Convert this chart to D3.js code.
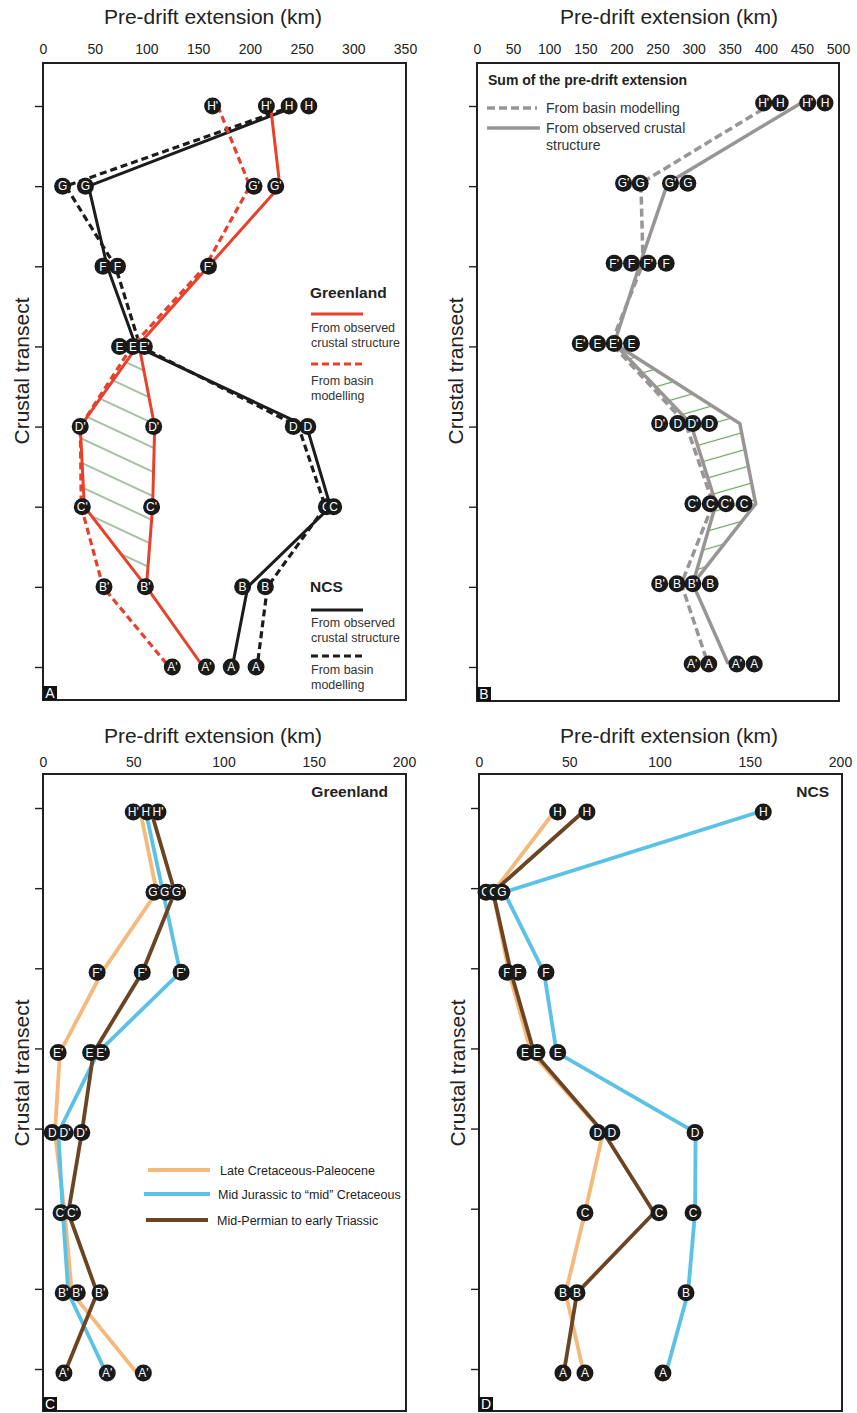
<!DOCTYPE html>
<html><head><meta charset="utf-8">
<script src="https://cdn.jsdelivr.net/npm/d3@7"></script>
<style>body{margin:0;background:#fff}svg{display:block}</style>
</head><body><svg id="c" width="857" height="1413"></svg>
<script>
// ---------- DATA ----------
const transects = ["H","G","F","E","D","C","B","A"];

// Panel A (Greenland red / NCS black), km
const aTicks = [0,50,100,150,200,250,300,350];
const aGreenObs    = [220,229,160,91,36,40,100,155];
const aGreenObsAlt = [null,null,null,93,108,106,100,null];
const aGreenBasin  = [169,200,157,86,36,37,58,122];
const aNcsObs      = [245,44,62,90,255,278,198,183];
const aNcsBasin    = [242,22,70,94,247,273,217,207];
const aMarkers = [
  ["H'","H",164],["H'","H",216],["H","H",238],["H","H",257],
  ["G","G",19],["G","G",41],["G'","G",204],["G'","G",225],
  ["F","F",58],["F","F",72],["F'","F",160],
  ["E","E",74],["E","E",87],["E'","E",98],
  ["D'","D",36],["D'","D",107],["D","D",242],["D","D",256],
  ["C'","C",38],["C'","C",105],["C","C",274],["C","C",281],
  ["B'","B",59],["B'","B",99],["B","B",193],["B","B",215],
  ["A'","A",125],["A'","A",158],["A","A",182],["A","A",206]
];

// Panel B (sums), km
const bTicks = [0,50,100,150,200,250,300,350,400,450,500];
const bBasin  = [410,227,230,186,289,327,283,320];
const bObs    = [449,264,226,190,296,331,299,348];
const bObsAlt = [null,null,null,190,364,386,299,null];
const bMarkers = [
  ["H'","H",397],["H","H",420],["H'","H",458],["H","H",482],
  ["G'","G",203],["G","G",226],["G'","G",268],["G","G",292],
  ["F'","F",190],["F","F",214],["F'","F",237],["F","F",262],
  ["E'","E",143],["E","E",167],["E'","E",190],["E","E",214],
  ["D'","D",253],["D","D",278],["D'","D",299],["D","D",322],
  ["C'","C",299],["C","C",323],["C'","C",345],["C","C",370],
  ["B'","B",253],["B","B",277],["B'","B",299],["B","B",323],
  ["A'","A",298],["A","A",321],["A'","A",360],["A","A",384]
];

// Panels C/D (by period), km
const cdTicks = [0,50,100,150,200];
const periods = ["Late Cretaceous-Paleocene","Mid Jurassic to \u201cmid\u201d Cretaceous","Mid-Permian to early Triassic"];
const cLate = [54,63,32.7,9.4,6.6,12,16,52];
const cJur  = [57,66.5,76,30.5,8.5,11,14,35];
const cPerm = [60,73,55,28,21.5,14,30,12];
const cMarkers = [
  ["H'","H",50],["H'","H",57.6],["H'","H",63.7],
  ["G'","G",61.5],["G'","G",68],["G'","G",74.6],
  ["F'","F",30],["F'","F",55],["F'","F",76.5],
  ["E'","E",8.4],["E'","E",26.4],["E'","E",32.4],
  ["D","D",5.1],["D'","D",12.2],["D'","D",21.5],
  ["C'","C",10],["C'","C",16.4],
  ["B'","B",11.2],["B'","B",19],["B'","B",31.6],
  ["A'","A",11.6],["A'","A",35.6],["A'","A",55.6]
];
const dLate = [41.6,7.8,16.6,28.8,68.7,58.7,48,58];
const dJur  = [155,13.9,36,43,120,119.7,115.8,103.6];
const dPerm = [57.6,7.8,17.7,30.5,69,97,54.3,47];
const dMarkers = [
  ["H","H",43.6],["H","H",59.8],["H","H",157.5],
  ["G","G",3.9],["G","G",8.2],["G","G",12.7],
  ["F","F",15.5],["F","F",21.6],["F","F",37.1],
  ["E","E",25.5],["E","E",32.1],["E","E",43.6],
  ["D","D",65.8],["D","D",73.6],["D","D",119.7],
  ["C","C",58.7],["C","C",99.7],["C","C",118.6],
  ["B","B",46.5],["B","B",54.3],["B","B",114.7],
  ["A","A",46.5],["A","A",58.7],["A","A",101.9]
];

// ---------- DRAWING ----------
const FONT = "Arial, 'Liberation Sans', Helvetica, sans-serif";
const RED = "#e8412b", BLK = "#1c1c1c", GRAY = "#9a9595";
const ORANGE = "#f5b97c", BLUE = "#5bc2e6", BROWN = "#6b4423";
const svg = d3.select("#c").attr("font-family", FONT);
const defs = svg.append("defs");

function hatch(id, angle, gap, color, w){
  const p = defs.append("pattern").attr("id", id).attr("patternUnits","userSpaceOnUse")
    .attr("width", 20).attr("height", gap).attr("patternTransform", `rotate(${angle})`);
  p.append("line").attr("x1",0).attr("x2",20).attr("y1",gap/2).attr("y2",gap/2)
    .attr("stroke", color).attr("stroke-width", w);
}
hatch("hA", 25, 22, "#7f9a78", 1.3);
hatch("hB", -16, 17, "#67a35c", 1.2);

function panel(c){
  const g = svg.append("g");
  const x = d3.scaleLinear().domain([0, c.max]).range([c.x0, c.x1]);
  const y = d3.scalePoint().domain(transects).range([c.yTop, c.yBot]);
  g.append("rect").attr("x", c.fx0).attr("y", c.fy0).attr("width", c.fx1 - c.fx0)
    .attr("height", c.fy1 - c.fy0).attr("fill","none").attr("stroke","#231f20").attr("stroke-width",2);
  g.append("g").attr("transform", `translate(0,${c.tickY})`)
    .call(d3.axisTop(x).tickValues(c.ticks).tickSize(0).tickPadding(0))
    .call(a => a.select(".domain").remove())
    .call(a => a.selectAll("text").attr("font-size", 14).attr("fill", "#222").attr("font-family", FONT));
  g.append("g").attr("transform", `translate(${c.fx0},0)`)
    .call(d3.axisLeft(y).tickSize(8).tickFormat(""))
    .call(a => a.select(".domain").remove())
    .call(a => a.selectAll("line").attr("stroke","#231f20").attr("stroke-width",1.4));
  g.append("text").attr("x", c.titleX).attr("y", c.titleY).attr("text-anchor","middle")
    .attr("font-size", 21).attr("fill","#222").text("Pre-drift extension (km)");
  g.append("text").attr("transform", `translate(${c.ylabX},${c.ylabY}) rotate(-90)`)
    .attr("text-anchor","middle").attr("font-size", 21).attr("fill","#222").text("Crustal transect");
  g.append("rect").attr("x", c.fx0).attr("y", c.fy1 - 14).attr("width", 14).attr("height", 14).attr("fill","#111");
  g.append("text").attr("x", c.fx0 + 7).attr("y", c.fy1 - 2).attr("text-anchor","middle")
    .attr("font-size", 14).attr("fill","#fff").text(c.letter);
  const dy = c.dy || 0;
  const line = d3.line().defined(d => d.v != null).x(d => x(d.v)).y(d => y(d.r) + dy);
  const series = (vals, color, w, dash) => g.append("path")
    .datum(vals.map((v,i) => ({r: transects[i], v})))
    .attr("d", line).attr("fill","none").attr("stroke", color).attr("stroke-width", w)
    .attr("stroke-dasharray", dash || null).attr("stroke-linejoin","miter");
  const area = (left, right, pat) => {
    const pts = [];
    transects.forEach((r,i) => { if (left[i] != null && right[i] != null) pts.push([x(left[i]), y(r)+dy]); });
    for (let i = transects.length-1; i >= 0; i--) if (left[i] != null && right[i] != null) pts.push([x(right[i]), y(transects[i])+dy]);
    g.append("path").attr("d", "M" + pts.join("L") + "Z").attr("fill", `url(#${pat})`);
  };
  const markers = (list) => {
    const mg = g.append("g");
    const sorted = list.slice().sort((a,b) => a[2]-b[2]);
    const m = mg.selectAll("g").data(sorted).join("g")
      .attr("transform", d => `translate(${x(d[2])},${y(d[1]) + dy})`);
    m.append("circle").attr("r", 8.5).attr("fill","#1a1a1a");
    m.append("text").attr("text-anchor","middle").attr("dy","0.36em").attr("font-size", 12)
      .attr("fill","#fff").text(d => d[0]);
  };
  return {g, x, y, series, area, markers};
}

function legendLine(g, x1, x2, y, color, w, dash){
  g.append("line").attr("x1",x1).attr("x2",x2).attr("y1",y).attr("y2",y)
    .attr("stroke",color).attr("stroke-width",w).attr("stroke-dasharray",dash||null);
}
function txt(g, x, y, s, size, opts={}){
  return g.append("text").attr("x",x).attr("y",y).attr("font-size",size)
    .attr("fill", opts.fill || "#222").attr("font-weight", opts.bold ? "bold" : null)
    .attr("text-anchor", opts.anchor || "start").text(s);
}

// Panel A
const A = panel({max:350, ticks:aTicks, x0:43, x1:405, yTop:106, yBot:667,
  fx0:43, fx1:406, fy0:63, fy1:700, tickY:54, titleX:213, titleY:24, ylabX:29, ylabY:371, letter:"A"});
A.area(aGreenObs, aGreenObsAlt, "hA");
A.series(aNcsObs, BLK, 3);
A.series(aNcsBasin, BLK, 3.2, "7,4");
A.series(aGreenObs, RED, 3);
A.series(aGreenObsAlt, RED, 3);
A.series(aGreenBasin, RED, 3.2, "7,4");
txt(A.g, 310, 298, "Greenland", 15.5, {bold:true});
legendLine(A.g, 311, 363, 314, RED, 3);
txt(A.g, 311, 332, "From observed", 12.5, {fill:"#333"});
txt(A.g, 311, 347, "crustal structure", 12.5, {fill:"#333"});
legendLine(A.g, 311, 362, 364, RED, 3.2, "7,4");
txt(A.g, 311, 385, "From basin", 12.5, {fill:"#333"});
txt(A.g, 311, 400, "modelling", 12.5, {fill:"#333"});
txt(A.g, 310, 592, "NCS", 15.5, {bold:true});
legendLine(A.g, 311, 363, 610, BLK, 3);
txt(A.g, 311, 627, "From observed", 12.5, {fill:"#333"});
txt(A.g, 311, 642, "crustal structure", 12.5, {fill:"#333"});
legendLine(A.g, 311, 362, 656, BLK, 3.2, "7,4");
txt(A.g, 311, 674, "From basin", 12.5, {fill:"#333"});
txt(A.g, 311, 689, "modelling", 12.5, {fill:"#333"});
A.markers(aMarkers);

// Panel B
const B = panel({max:500, ticks:bTicks, x0:477, x1:838, yTop:106, yBot:667,
  fx0:477, fx1:839, fy0:63, fy1:701, tickY:54, titleX:669, titleY:24, ylabX:463, ylabY:371, letter:"B", dy:-3});
B.area(bObs, bObsAlt, "hB");
B.series(bBasin, GRAY, 3.5, "8,4");
B.series(bObs, GRAY, 3.5);
B.series(bObsAlt, GRAY, 3.5);
txt(B.g, 488, 85, "Sum of the pre-drift extension", 14, {bold:true});
legendLine(B.g, 487, 537, 108, GRAY, 3.5, "8,4");
txt(B.g, 546, 113, "From basin modelling", 14, {fill:"#333"});
legendLine(B.g, 487, 540, 128, GRAY, 3.5);
txt(B.g, 546, 133, "From observed crustal", 14, {fill:"#333"});
txt(B.g, 546, 150, "structure", 14, {fill:"#333"});
B.markers(bMarkers);

// Panel C
const C = panel({max:200, ticks:cdTicks, x0:43, x1:404, yTop:808, yBot:1369,
  fx0:43, fx1:406, fy0:774, fy1:1411, tickY:767, titleX:213, titleY:743, ylabX:29, ylabY:1073, letter:"C", dy:4});
C.series(cLate, ORANGE, 3.8);
C.series(cJur, BLUE, 3.8);
C.series(cPerm, BROWN, 3.8);
txt(C.g, 388, 797, "Greenland", 15.5, {bold:true, anchor:"end"});
legendLine(C.g, 148, 210, 1170, ORANGE, 4);
txt(C.g, 220, 1174.5, periods[0], 12.5);
legendLine(C.g, 144, 210, 1194, BLUE, 4);
txt(C.g, 218, 1198.5, periods[1], 12.5);
legendLine(C.g, 146, 208, 1220, BROWN, 4);
txt(C.g, 217, 1224.5, periods[2], 12.5);
C.markers(cMarkers);

// Panel D
const D = panel({max:200, ticks:cdTicks, x0:479, x1:840, yTop:808, yBot:1369,
  fx0:479, fx1:842, fy0:774, fy1:1411, tickY:767, titleX:669, titleY:743, ylabX:465, ylabY:1073, letter:"D", dy:4});
D.series(dLate, ORANGE, 3.8);
D.series(dJur, BLUE, 3.8);
D.series(dPerm, BROWN, 3.8);
txt(D.g, 829, 797, "NCS", 15.5, {bold:true, anchor:"end"});
D.markers(dMarkers);
</script></body></html>
